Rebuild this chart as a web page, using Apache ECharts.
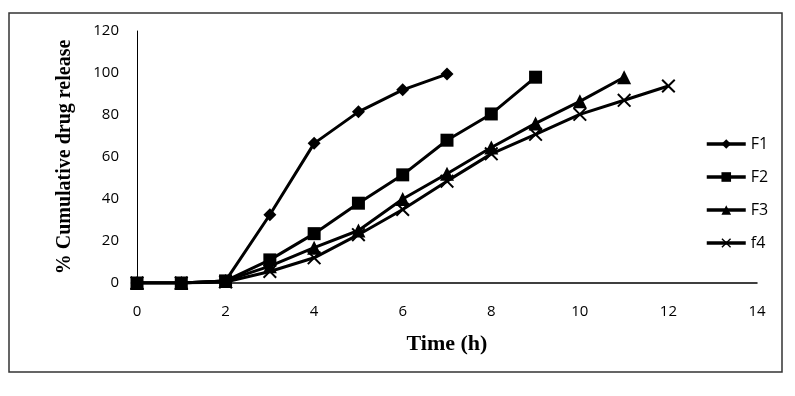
<!DOCTYPE html>
<html lang="en">
<head>
    <meta charset="UTF-8">
    <title>Cumulative drug release</title>
    <script src="https://cdn.jsdelivr.net/npm/echarts@6/dist/echarts.min.js"></script>
    <style>
        html, body { margin: 0; padding: 0; background: #fff; }
        #chart { width: 795px; height: 396px; }
    </style>
</head>
<body>
    <div id="chart"></div>
    <script>
        // time points (h)
        let hours = [0, 1, 2, 3, 4, 5, 6, 7, 8, 9, 10, 11, 12];
        // % cumulative release
        let f1 = [0, 0, 1, 32.5, 66.5, 81.5, 92, 99.5];
        let f2 = [0, 0, 1, 11, 23.5, 38, 51.5, 68, 80.5, 98];
        let f3 = [0, 0, 1, 8, 16.8, 25, 40, 52, 64.5, 76, 86.5, 98];
        let f4 = [0, 0, 0.5, 5.5, 12, 23, 35, 48.5, 61.5, 70.8, 80.3, 87, 93.8];
        let names = ['F1', 'F2', 'F3', 'f4'];
        let symbols = [
            'diamond',
            'rect',
            'triangle',
            'path://M0,1 L1,0 L5,4 L9,0 L10,1 L6,5 L10,9 L9,10 L5,6 L1,10 L0,9 L4,5 Z'
        ];
        let sizes = [13, 13, 14, 14];

        let pairs = function (vals) {
            return vals.map(function (v, i) { return [hours[i], v]; });
        };

        let my_chart = echarts.init(document.getElementById('chart'));

        let series = [f1, f2, f3, f4].map(function (vals, i) {
            return {
                name: names[i],
                type: 'line',
                data: pairs(vals),
                symbol: symbols[i],
                symbolSize: sizes[i],
                lineStyle: { color: '#000', width: 3 },
                itemStyle: { color: '#000' },
                animation: false
            };
        });

        let options = {
            backgroundColor: '#fff',
            grid: { left: 137, right: 38, top: 31, bottom: 113 },
            legend: {
                orient: 'vertical',
                left: 700,
                top: 131,
                itemWidth: 39,
                itemHeight: 12,
                itemGap: 17,
                lineStyle: { width: 3.5, color: '#000' },
                textStyle: { fontFamily: 'Open Sans', fontSize: 16, color: '#000' },
                data: names.map(function (n) {
                    return { name: n, lineStyle: { width: 3.5, color: '#000' } };
                })
            },
            xAxis: {
                type: 'value',
                min: 0, max: 14, interval: 2,
                name: 'Time (h)',
                nameLocation: 'middle',
                nameGap: 50,
                nameTextStyle: { fontFamily: 'Liberation Serif', fontWeight: 'bold', fontSize: 22, color: '#000' },
                axisLine: { lineStyle: { color: '#000', width: 1.5 } },
                axisTick: { show: false },
                splitLine: { show: false },
                axisLabel: { margin: 21, fontFamily: 'Open Sans', fontSize: 15, color: '#000' }
            },
            yAxis: {
                type: 'value',
                min: 0, max: 120, interval: 20,
                name: '% Cumulative drug release',
                nameLocation: 'middle',
                nameGap: 62,
                nameTextStyle: { fontFamily: 'Liberation Serif', fontWeight: 'bold', fontSize: 20, color: '#000' },
                axisLine: { show: true, lineStyle: { color: '#000', width: 1 } },
                axisTick: { show: false },
                splitLine: { show: false },
                axisLabel: { margin: 18, fontFamily: 'Open Sans', fontSize: 15, color: '#000' }
            },
            graphic: [{
                type: 'rect',
                shape: { x: 9, y: 13, width: 773, height: 359 },
                style: { fill: 'none', stroke: '#333', lineWidth: 1.5 },
                silent: true
            }],
            series: series
        };
        my_chart.setOption(options);
    </script>
</body>
</html>
